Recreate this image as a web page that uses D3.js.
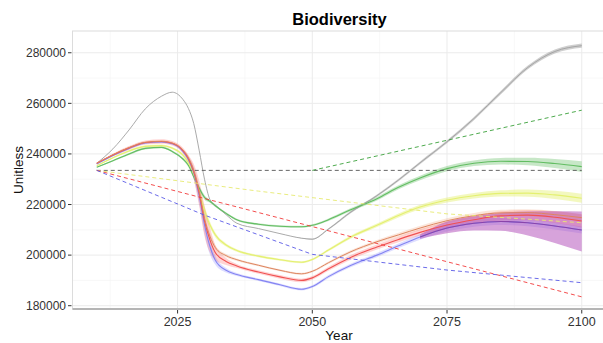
<!doctype html>
<html lang="en">
<head>
<meta charset="utf-8">
<title>Biodiversity</title>
<script src="https://cdn.jsdelivr.net/npm/d3@7"></script>
<style>
  body { margin: 0; background: #fff; }
  svg text { font-family: "Liberation Sans", Arial, sans-serif; }
</style>
</head>
<body>
<svg id="chart" width="603" height="343"></svg>
<script>
// year grid shared by the scenario runs
var years = [2010, 2013, 2016, 2019, 2022, 2024, 2026, 2027, 2028, 2029, 2030, 2031, 2032, 2034, 2036,
             2040, 2044, 2048, 2050, 2053, 2057, 2062, 2066, 2070, 2075, 2080, 2085, 2090, 2095, 2100];

var grayVals   = [236300, 242000, 249500, 257800, 262800, 264400, 261500, 258000, 252000, 241500, 230000, 222000, 219800, 216000, 212600,
                  210500, 208500, 206700, 206300, 210300, 216800, 223500, 229700, 236500, 244800, 254000, 264300, 274200, 280500, 282800];
var greenVals  = [234700, 237300, 240000, 242200, 242600, 241000, 238000, 235500, 231000, 226500, 222800, 221300, 219500, 216500, 214000,
                  212200, 211400, 211200, 211800, 214000, 217800, 222300, 226800, 230500, 234200, 236300, 237100, 237000, 236200, 235000];
var yellowVals = [235300, 238500, 241200, 243000, 243300, 242300, 239500, 236500, 232000, 225000, 217500, 212000, 208000, 204000, 201800,
                  199600, 198200, 197200, 198300, 202000, 207000, 211800, 215700, 219000, 221800, 223500, 224400, 224500, 223800, 222500];
var orangeVals = [236300, 239700, 242500, 244600, 245000, 244300, 241500, 238500, 233500, 225500, 214500, 207500, 203000, 199800, 198200,
                  196000, 194000, 192600, 193600, 197000, 201200, 205300, 208000, 210700, 213600, 215600, 216700, 216800, 216000, 214800];
var redVals    = [236300, 239600, 242400, 244500, 244900, 244200, 241300, 238200, 233000, 224500, 213500, 206000, 201000, 197500, 195700,
                  193300, 191400, 190000, 191000, 194600, 199000, 203200, 206200, 209000, 211900, 214000, 215500, 215800, 215000, 213500];
var blueVals   = [236000, 239400, 242200, 244300, 244700, 244000, 241000, 237800, 232500, 223500, 212000, 203500, 198000, 194000, 192300,
                  190300, 188300, 186500, 187600, 191500, 195800, 200000, 203700, 207200, 210700, 212600, 213300, 212800, 211500, 209900];

// half-width of the uncertainty ribbons
var graySpread   = [0, 0, 0, 0, 0, 0, 0, 0, 0, 0, 0, 0, 0, 0, 0,
                    0, 0, 100, 200, 300, 400, 450, 500, 550, 600, 650, 700, 750, 800, 850];
var greenSpread  = [200, 300, 400, 400, 400, 400, 500, 700, 900, 1000, 900, 600, 500, 400, 400,
                    400, 400, 400, 400, 500, 600, 700, 800, 900, 1000, 1100, 1300, 1500, 1800, 2100];
var yellowSpread = [200, 300, 400, 400, 400, 400, 600, 900, 1300, 1800, 1800, 1300, 900, 600, 500,
                    400, 400, 400, 400, 500, 600, 700, 800, 900, 1000, 1100, 1200, 1400, 1600, 1800];
var orangeSpread = [200, 300, 400, 400, 400, 400, 600, 900, 1300, 1800, 1800, 1300, 900, 600, 500,
                    400, 400, 400, 400, 500, 600, 700, 800, 900, 1000, 1100, 1200, 1300, 1400, 1500];
var redSpread    = [200, 500, 700, 800, 900, 900, 1100, 1400, 3000, 5000, 6000, 5000, 3000, 1400, 800,
                    700, 700, 700, 700, 800, 900, 1000, 1100, 1200, 1400, 1600, 1800, 2000, 2300, 2600];
var blueSpread   = [200, 300, 400, 400, 400, 400, 700, 1100, 2300, 3300, 3800, 3300, 1800, 900, 600,
                    500, 500, 500, 500, 600, 700, 800, 900, 1100, 1400, 1400, 1400, 1400, 1400, 1400];

// wide band at the end of the blue run
var purpleYears = [2070, 2075, 2080, 2085, 2090, 2095, 2100];
var purpleVals  = [207200, 210700, 212600, 213300, 212800, 211500, 209900];
var purpleLow   = [206400, 208600, 209700, 209600, 207800, 204800, 201400];
var purpleHigh  = [208200, 213300, 215400, 216700, 217200, 217300, 217200];

// straight-line (dashed) trends
var blackDashYears  = [2010, 2100];
var blackDashVals   = [233500, 233500];
var greenDashYears  = [2050, 2100];
var greenDashVals   = [233500, 257300];
var yellowDashYears = [2010, 2040, 2075, 2100];
var yellowDashVals  = [233500, 225300, 216300, 212800];
var redDashYears    = [2010, 2100];
var redDashVals     = [233500, 183500];
var blueDashYears   = [2010, 2030, 2050, 2075, 2100];
var blueDashVals    = [233500, 215800, 200300, 194100, 189100];

var xTicks = [2025, 2050, 2075, 2100];
var xMinor = [2012.5, 2037.5, 2062.5, 2087.5];
var yTicks = [180000, 200000, 220000, 240000, 260000, 280000];
var yMinor = [190000, 210000, 230000, 250000, 270000];

var svg = d3.select("#chart");
var pLeft = 72.5, pRight = 606, pTop = 31, pBottom = 309;

var x = d3.scaleLinear().domain([2005.5, 2104.5]).range([pLeft, pRight]);
var y = d3.scaleLinear().domain([178700, 288600]).range([pBottom, pTop]);

svg.append("clipPath").attr("id", "panel").append("rect")
    .attr("x", pLeft).attr("y", pTop).attr("width", pRight - pLeft).attr("height", pBottom - pTop);

// grid
svg.append("g").selectAll("line").data(yMinor).enter().append("line")
    .attr("x1", pLeft).attr("x2", pRight).attr("y1", d => y(d)).attr("y2", d => y(d))
    .attr("stroke", "#f4f4f4").attr("stroke-width", 0.6);
svg.append("g").selectAll("line").data(xMinor).enter().append("line")
    .attr("y1", pTop).attr("y2", pBottom).attr("x1", d => x(d)).attr("x2", d => x(d))
    .attr("stroke", "#f4f4f4").attr("stroke-width", 0.6);
svg.append("g").selectAll("line").data(yTicks).enter().append("line")
    .attr("x1", pLeft).attr("x2", pRight).attr("y1", d => y(d)).attr("y2", d => y(d))
    .attr("stroke", "#ebebeb").attr("stroke-width", 1);
svg.append("g").selectAll("line").data(xTicks).enter().append("line")
    .attr("y1", pTop).attr("y2", pBottom).attr("x1", d => x(d)).attr("x2", d => x(d))
    .attr("stroke", "#ebebeb").attr("stroke-width", 1);

// panel border
svg.append("rect").attr("x", pLeft).attr("y", pTop).attr("width", pRight - pLeft).attr("height", pBottom - pTop)
    .attr("fill", "none").attr("stroke", "#dcdcdc").attr("stroke-width", 1);

var plot = svg.append("g").attr("clip-path", "url(#panel)");

function rows(yrs, vals, spread) {
  return yrs.map((yr, i) => ({ yr: yr, v: vals[i], lo: vals[i] - spread[i], hi: vals[i] + spread[i] }));
}

var area = d3.area().curve(d3.curveMonotoneX)
    .x(d => x(d.yr)).y0(d => y(d.lo)).y1(d => y(d.hi));
var line = d3.line().curve(d3.curveMonotoneX)
    .x(d => x(d.yr)).y(d => y(d.v));
var straight = d3.line().x(d => x(d.yr)).y(d => y(d.v));

var runs = [
  { name: "gray",   data: rows(years, grayVals, graySpread),     line: "#a0a0a0", band: "#a0a0a0", op: 0.5, w: 0.9 },
  { name: "green",  data: rows(years, greenVals, greenSpread),   line: "#62bd62", band: "#44b044", op: 0.3, w: 1.1 },
  { name: "yellow", data: rows(years, yellowVals, yellowSpread), line: "#e4f070", band: "#e4f070", op: 0.45, w: 1.1 },
  { name: "blue",   data: rows(years, blueVals, blueSpread),     line: "#8484f2", band: "#4848ff", op: 0.18, w: 1.1 },
  { name: "red",    data: rows(years, redVals, redSpread),       line: "#f05252", band: "#ff3a3a", op: 0.22, w: 1.1 },
  { name: "orange", data: rows(years, orangeVals, orangeSpread), line: "#dd8560", band: "#f09a70", op: 0.25, w: 1.0 }
];

var purple = purpleYears.map((yr, i) => ({ yr: yr, v: purpleVals[i], lo: purpleLow[i], hi: purpleHigh[i] }));

runs.forEach(r => {
  plot.append("path").datum(r.data).attr("d", area)
      .attr("fill", r.band).attr("fill-opacity", r.op).attr("stroke", "none");
});
plot.append("path").datum(purple).attr("d", area)
    .attr("fill", "#b048b8").attr("fill-opacity", 0.5);

runs.forEach(r => {
  plot.append("path").datum(r.data).attr("d", line)
      .attr("fill", "none").attr("stroke", r.line).attr("stroke-width", r.w);
});
plot.append("path").datum(purple).attr("d", line)
    .attr("fill", "none").attr("stroke", "#8a44aa").attr("stroke-width", 1.1);

var dashes = [
  { yrs: blackDashYears,  vals: blackDashVals,  c: "#555555" },
  { yrs: greenDashYears,  vals: greenDashVals,  c: "#3aa03a" },
  { yrs: yellowDashYears, vals: yellowDashVals, c: "#e6ea70" },
  { yrs: redDashYears,    vals: redDashVals,    c: "#f23a3a" },
  { yrs: blueDashYears,   vals: blueDashVals,   c: "#5a5ae6" }
];
dashes.forEach(d => {
  var pts = d.yrs.map((yr, i) => ({ yr: yr, v: d.vals[i] }));
  plot.append("path").datum(pts).attr("d", straight)
      .attr("fill", "none").attr("stroke", d.c).attr("stroke-width", 0.9)
      .attr("stroke-dasharray", "4,3");
});

// x axis line
svg.append("line").attr("x1", pLeft).attr("x2", pRight).attr("y1", pBottom).attr("y2", pBottom)
    .attr("stroke", "#b5b5b5").attr("stroke-width", 2);

// ticks
svg.append("g").selectAll("line").data(yTicks).enter().append("line")
    .attr("x1", pLeft - 4.5).attr("x2", pLeft - 1).attr("y1", d => y(d)).attr("y2", d => y(d))
    .attr("stroke", "#333").attr("stroke-width", 1);
svg.append("g").selectAll("text").data(yTicks).enter().append("text")
    .attr("x", pLeft - 6.5).attr("y", d => y(d)).attr("dy", "0.36em")
    .attr("text-anchor", "end").attr("font-size", 12).attr("fill", "#333")
    .text(d => d);
svg.append("g").selectAll("line").data(xTicks).enter().append("line")
    .attr("x1", d => x(d)).attr("x2", d => x(d)).attr("y1", pBottom + 1).attr("y2", pBottom + 4.5)
    .attr("stroke", "#333").attr("stroke-width", 1);
svg.append("g").selectAll("text").data(xTicks).enter().append("text")
    .attr("x", d => x(d)).attr("y", 326)
    .attr("text-anchor", "middle").attr("font-size", 12.5).attr("fill", "#333")
    .text(d => d);

// titles
svg.append("text").attr("x", 339.5).attr("y", 25)
    .attr("text-anchor", "middle").attr("font-size", 16.5).attr("font-weight", "bold").attr("fill", "#000")
    .text("Biodiversity");
svg.append("text").attr("x", 339).attr("y", 340)
    .attr("text-anchor", "middle").attr("font-size", 13.5).attr("fill", "#111")
    .text("Year");
svg.append("text").attr("transform", "translate(23," + ((pTop + pBottom) / 2) + ") rotate(-90)")
    .attr("text-anchor", "middle").attr("font-size", 13.5).attr("fill", "#111")
    .text("Unitless");
</script>
</body>
</html>
